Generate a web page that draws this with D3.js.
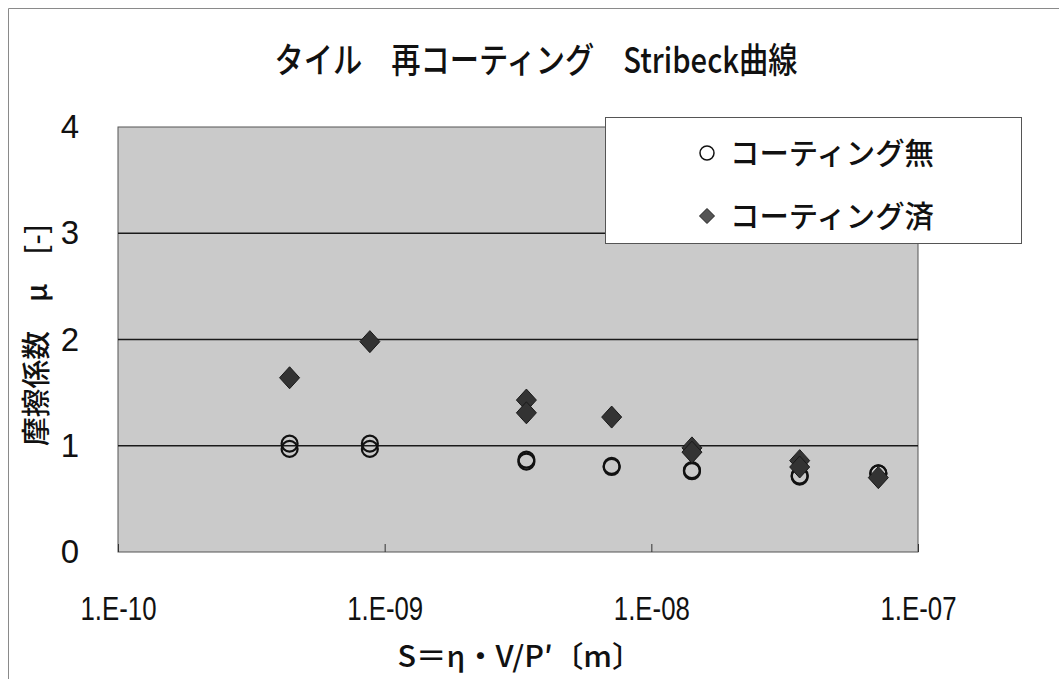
<!DOCTYPE html>
<html lang="ja">
<head>
<meta charset="utf-8">
<script src="https://cdn.jsdelivr.net/npm/d3@7"></script>
<style>
  html, body { margin: 0; padding: 0; background: #fff; }
  svg { display: block; }
  text { fill: #111; }
</style>
</head>
<body>
<svg id="chart" width="1059" height="679"></svg>
<script>
// Stribeck curve: friction coefficient vs. bearing parameter S
const chartTitle = "タイル\u3000再コーティング\u3000Stribeck曲線";
const xAxisTitle = "S＝η・V/P′〔m〕";
const yAxisTitle = "摩擦係数\u3000μ\u3000[-]";
const seriesNames = ["コーティング無", "コーティング済"];

// Uncoated tile (open circles)
const uncoatedS  = [4.4e-10, 4.4e-10, 8.8e-10, 8.8e-10, 3.4e-9, 3.4e-9, 7.1e-9, 7.1e-9,
                    1.42e-8, 1.42e-8, 3.6e-8, 3.6e-8, 7.1e-8, 7.1e-8];
const uncoatedMu = [1.02, 0.97, 1.02, 0.97, 0.87, 0.85, 0.81, 0.80,
                    0.77, 0.76, 0.72, 0.71, 0.74, 0.74];

// Re-coated tile (filled diamonds)
const coatedS  = [4.4e-10, 8.8e-10, 3.4e-9, 3.4e-9, 7.1e-9, 1.42e-8, 1.42e-8, 3.6e-8, 3.6e-8, 7.1e-8];
const coatedMu = [1.64, 1.98, 1.43, 1.31, 1.27, 0.98, 0.94, 0.86, 0.80, 0.70];

// Axis ticks
const xTickValues = [1e-10, 1e-9, 1e-8, 1e-7];
const xTickLabels = ["1.E-10", "1.E-09", "1.E-08", "1.E-07"];
const yTickValues = [0, 1, 2, 3, 4];

const svg = d3.select("#chart");
const W = 1059, H = 679;
const plot = { left: 118, right: 918, top: 127, bottom: 552 };

const x = d3.scaleLog().domain([1e-10, 1e-7]).range([plot.left, plot.right]);
const y = d3.scaleLinear().domain([0, 4]).range([plot.bottom, plot.top]);

const jpFont = "'Noto Sans CJK JP', 'Noto Sans', sans-serif";
const numFont = "'Liberation Sans', Arial, sans-serif";

// Outer chart frame
svg.append("path")
  .attr("d", `M8.5,${H} V8.5 H${W}`)
  .attr("fill", "none").attr("stroke", "#8a8a8a").attr("stroke-width", 1);

// Title
svg.append("text")
  .attr("x", 536).attr("y", 73)
  .attr("text-anchor", "middle")
  .attr("font-family", jpFont).attr("font-size", 35).attr("font-weight", 500)
  .attr("textLength", 523).attr("lengthAdjust", "spacingAndGlyphs")
  .text(chartTitle);

// Plot area
svg.append("rect")
  .attr("x", plot.left).attr("y", plot.top)
  .attr("width", plot.right - plot.left).attr("height", plot.bottom - plot.top)
  .attr("fill", "#cacaca").attr("stroke", "#555").attr("stroke-width", 1);

// Horizontal gridlines
svg.append("g").selectAll("line")
  .data(yTickValues.filter(v => v > 0 && v < 4))
  .join("line")
  .attr("x1", plot.left).attr("x2", plot.right)
  .attr("y1", d => y(d)).attr("y2", d => y(d))
  .attr("stroke", "#1a1a1a").attr("stroke-width", 1.6);

// X axis (ticks point into the plot)
const xAxis = d3.axisBottom(x)
  .tickValues(xTickValues)
  .tickSize(-8)
  .tickPadding(45)
  .tickFormat((d, i) => xTickLabels[i]);
const gx = svg.append("g")
  .attr("transform", `translate(0,${plot.bottom})`)
  .call(xAxis);
gx.select(".domain").remove();
gx.selectAll(".tick line").attr("stroke", "#333");
gx.selectAll(".tick text")
  .attr("font-family", numFont).attr("font-size", 33).attr("fill", "#111")
  .attr("textLength", 76).attr("lengthAdjust", "spacingAndGlyphs");

// Y axis
const yAxis = d3.axisLeft(y)
  .tickValues(yTickValues)
  .tickSize(0)
  .tickPadding(39)
  .tickFormat(d3.format("d"));
const gy = svg.append("g")
  .attr("transform", `translate(${plot.left},0)`)
  .call(yAxis);
gy.select(".domain").remove();
gy.selectAll(".tick text")
  .attr("font-family", numFont).attr("font-size", 33).attr("fill", "#111");

// Axis titles
svg.append("text")
  .attr("x", 520).attr("y", 667)
  .attr("text-anchor", "middle")
  .attr("font-family", jpFont).attr("font-size", 29).attr("font-weight", 500)
  .attr("textLength", 245).attr("lengthAdjust", "spacingAndGlyphs")
  .text(xAxisTitle);

svg.append("text")
  .attr("transform", "translate(47,335) rotate(-90)")
  .attr("text-anchor", "middle")
  .attr("font-family", jpFont).attr("font-size", 29).attr("font-weight", 500)
  .attr("textLength", 222).attr("lengthAdjust", "spacingAndGlyphs")
  .text(yAxisTitle);

// Diamond marker path around a centre point
function diamond(cx, cy, hw, hh) {
  return `M${cx},${cy - hh} L${cx + hw},${cy} L${cx},${cy + hh} L${cx - hw},${cy} Z`;
}

// Uncoated series: open circles
const uncoated = uncoatedS.map((s, i) => ({ s, mu: uncoatedMu[i] }));
svg.append("g").selectAll("circle")
  .data(uncoated)
  .join("circle")
  .attr("cx", d => x(d.s)).attr("cy", d => y(d.mu))
  .attr("r", 8)
  .attr("fill", "none").attr("stroke", "#111").attr("stroke-width", 2.2);

// Coated series: filled diamonds
const coated = coatedS.map((s, i) => ({ s, mu: coatedMu[i] }));
svg.append("g").selectAll("path")
  .data(coated)
  .join("path")
  .attr("d", d => diamond(x(d.s), y(d.mu), 10, 11))
  .attr("fill", "#333").attr("stroke", "#1a1a1a").attr("stroke-width", 1);

// Legend
const legend = svg.append("g");
legend.append("rect")
  .attr("x", 605.5).attr("y", 117.5).attr("width", 416).attr("height", 126)
  .attr("fill", "#fff").attr("stroke", "#555").attr("stroke-width", 1);
const legendRows = [
  { name: seriesNames[0], cy: 153, type: "circle" },
  { name: seriesNames[1], cy: 216, type: "diamond" }
];
legendRows.forEach(r => {
  if (r.type === "circle") {
    legend.append("circle").attr("cx", 707).attr("cy", r.cy).attr("r", 7)
      .attr("fill", "#fff").attr("stroke", "#111").attr("stroke-width", 1.5);
  } else {
    legend.append("path").attr("d", diamond(707, r.cy, 7.5, 7.5))
      .attr("fill", "#555").attr("stroke", "#222").attr("stroke-width", 1);
  }
  legend.append("text")
    .attr("x", 730).attr("y", r.cy + 11)
    .attr("font-family", jpFont).attr("font-size", 30).attr("font-weight", 500)
    .attr("textLength", 204).attr("lengthAdjust", "spacingAndGlyphs")
    .text(r.name);
});
</script>
</body>
</html>
